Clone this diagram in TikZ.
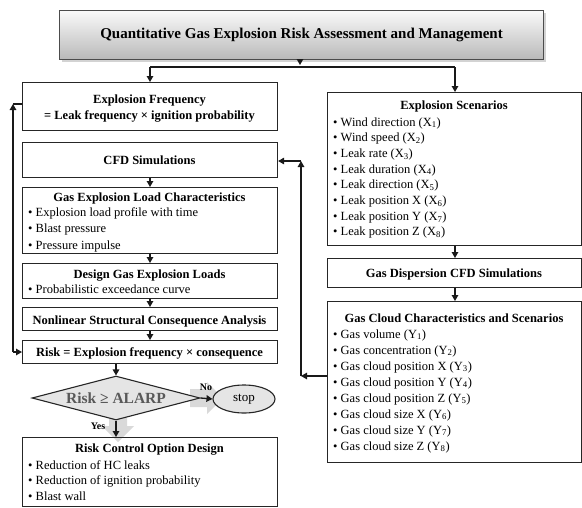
\documentclass[tikz,border=0pt]{standalone}
\usepackage{fontspec}
\setmainfont{Liberation Serif}
\usetikzlibrary{arrows.meta,shapes.geometric,shadows}
\begin{document}
\begin{tikzpicture}[x=1pt,y=-1pt,
  box/.style={draw=black!85, line width=1.1pt, fill=white, inner sep=0pt, anchor=north west},
  hd/.style={font=\fontsize{12.5}{15}\selectfont\bfseries, inner sep=0pt, anchor=base},
  it/.style={font=\fontsize{12.5}{15}\selectfont, inner sep=0pt, anchor=base west},
  arr/.style={-{Triangle[length=6pt,width=6.5pt]}, line width=1.3pt, black!90},
  ln/.style={line width=1.3pt, black!90},
  lbl/.style={font=\fontsize{10}{12}\selectfont\bfseries, inner sep=0pt}]
\useasboundingbox (0,0) rectangle (582,507);

% title
\node[box, minimum width=484pt, minimum height=49pt, top color=gray!4, bottom color=gray!55,
      draw=gray!60!black, drop shadow={opacity=0.35}] (title) at (59,10) {};
\node[font=\fontsize{15}{18}\selectfont\bfseries, inner sep=0pt] (tt) at (title.center) {Quantitative Gas Explosion Risk Assessment and Management};

% left column boxes
\node[box, minimum width=255pt, minimum height=48pt] (ef) at (22,82) {};
\node[box, minimum width=255pt, minimum height=35pt] (cfd) at (22,142) {};
\node[box, minimum width=255pt, minimum height=66pt] (gelc) at (22,187) {};
\node[box, minimum width=255pt, minimum height=35pt] (des) at (22,263) {};
\node[box, minimum width=255pt, minimum height=23pt] (nl) at (22,307) {};
\node[box, minimum width=255pt, minimum height=23pt] (risk) at (22,340) {};
\node[box, minimum width=255pt, minimum height=69pt] (rc) at (22,437) {};

% right column boxes
\node[box, minimum width=254pt, minimum height=153pt] (es) at (327,92) {};
\node[box, minimum width=254pt, minimum height=29pt] (gd) at (327,258) {};
\node[box, minimum width=254pt, minimum height=161pt] (gc) at (327,301) {};

% headings
\node[hd] (efh1) at (149.5,103) {Explosion Frequency};
\node[hd] (efh2) at (149.5,119) {= Leak frequency × ignition probability};
\node[hd] (cfdh) at (149.5,164) {CFD Simulations};
\node[hd] (gelch) at (149.5,201) {Gas Explosion Load Characteristics};
\node[hd] (desh) at (149.5,278) {Design Gas Explosion Loads};
\node[hd] (nlh) at (149.5,324) {Nonlinear Structural Consequence Analysis};
\node[hd] (riskh) at (149.5,356) {Risk = Explosion frequency × consequence};
\node[hd] (rch) at (149.5,452) {Risk Control Option Design};
\node[hd] (esh) at (454,109) {Explosion Scenarios};
\node[hd] (gdh) at (454,277) {Gas Dispersion CFD Simulations};
\node[hd] (gch) at (454,322) {Gas Cloud Characteristics and Scenarios};

% bullet items
\foreach \t [count=\i] in {Explosion load profile with time, Blast pressure, Pressure impulse}
  \node[it] (gelc\i) at (28,{216+16.5*(\i-1)}) {• \t};
\node[it] (des1) at (28,293) {• Probabilistic exceedance curve};
\foreach \t [count=\i] in {Reduction of HC leaks, Reduction of ignition probability, Blast wall}
  \node[it] (rc\i) at (28,{469+15.8*(\i-1)}) {• \t};
\foreach \t [count=\i] in {Wind direction (X\textsubscript{1}), Wind speed (X\textsubscript{2}), Leak rate (X\textsubscript{3}), Leak duration (X\textsubscript{4}), Leak direction (X\textsubscript{5}), Leak position X (X\textsubscript{6}), Leak position Y (X\textsubscript{7}), Leak position Z (X\textsubscript{8})}
  \node[it] (es\i) at (333,{126+15.7*(\i-1)}) {• \t};
\foreach \t [count=\i] in {Gas volume (Y\textsubscript{1}), Gas concentration (Y\textsubscript{2}), Gas cloud position X (Y\textsubscript{3}), Gas cloud position Y (Y\textsubscript{4}), Gas cloud position Z (Y\textsubscript{5}), Gas cloud size X (Y\textsubscript{6}), Gas cloud size Y (Y\textsubscript{7}), Gas cloud size Z (Y\textsubscript{8})}
  \node[it] (gc\i) at (333,{338+16*(\i-1)}) {• \t};

% gray block-arrow shadows
\fill[gray!30] (190,389) -- (207,389) -- (207,382) -- (223,398) -- (207,414) -- (207,407) -- (190,407) -- cycle;
\fill[gray!30] (109,410) -- (127,410) -- (127,426) -- (134,426) -- (118,442) -- (102,426) -- (109,426) -- cycle;

% decision
\node[diamond, draw=black!85, line width=1.1pt, fill=gray!20, minimum width=168pt, minimum height=44pt,
      aspect=3.8, inner sep=0pt] (dec) at (116,398) {};
\node[font=\fontsize{15.5}{18}\selectfont\bfseries, text=black!65, inner sep=0pt] (dect) at (dec.center) {Risk ≥ ALARP};
\node[ellipse, draw=black!85, line width=1.1pt, fill=gray!20, minimum width=62pt, minimum height=28pt,
      inner sep=0pt, font=\fontsize{13}{15}\selectfont] (stop) at (244,399) {stop};
\node[lbl] (no) at (206,387) {No};
\node[lbl] (yes) at (98,426) {Yes};

% rc box drawn over the shadow
\node[box, minimum width=255pt, minimum height=69pt, fill=none] (rcb) at (22,437) {};

% top distribution
\coordinate (jt) at (300,67);
\coordinate (jl) at (150,67);
\coordinate (jr) at (455,67);
\draw[arr] (title.south -| jt) -- ([yshift=2pt]jt);
\draw[ln] (jl) -- (jr);
\draw[arr] (jl) -- (jl |- ef.north);
\draw[arr] (jr) -- (jr |- es.north);

% left column flow
\coordinate (xl) at (150,0);
\draw[arr] (xl |- cfd.south) -- (xl |- gelc.north);
\draw[arr] (xl |- gelc.south) -- (xl |- des.north);
\draw[arr] (xl |- des.south) -- (xl |- nl.north);
\draw[arr] (xl |- nl.south) -- (xl |- risk.north);
\coordinate (xd) at (116,0);
\draw[arr] (xd |- risk.south) -- (dec.north);
\draw[arr] (dec.east) -- (stop.west);
\draw[arr] (dec.south) -- (dec.south |- rc.north);

% right column flow
\coordinate (xr) at (455,0);
\draw[arr] (xr |- es.south) -- (xr |- gd.north);
\draw[arr] (xr |- gd.south) -- (xr |- gc.north);

% right feedback loop
\coordinate (r1) at (301,376);
\coordinate (r2) at (301,161);
\draw[arr] (gc.west |- r1) -- (r1);
\draw[arr] (r1) -- (r2);
\draw[arr] (r2) -- (cfd.east |- r2);

% left feedback loop
\coordinate (l1) at (13,352);
\coordinate (l2) at (13,104);
\draw[arr] (l1) -- (risk.west |- l1);
\draw[arr] (l1) -- (l2);
\draw[ln] (l2) -- (ef.west |- l2);
\end{tikzpicture}
\end{document}
